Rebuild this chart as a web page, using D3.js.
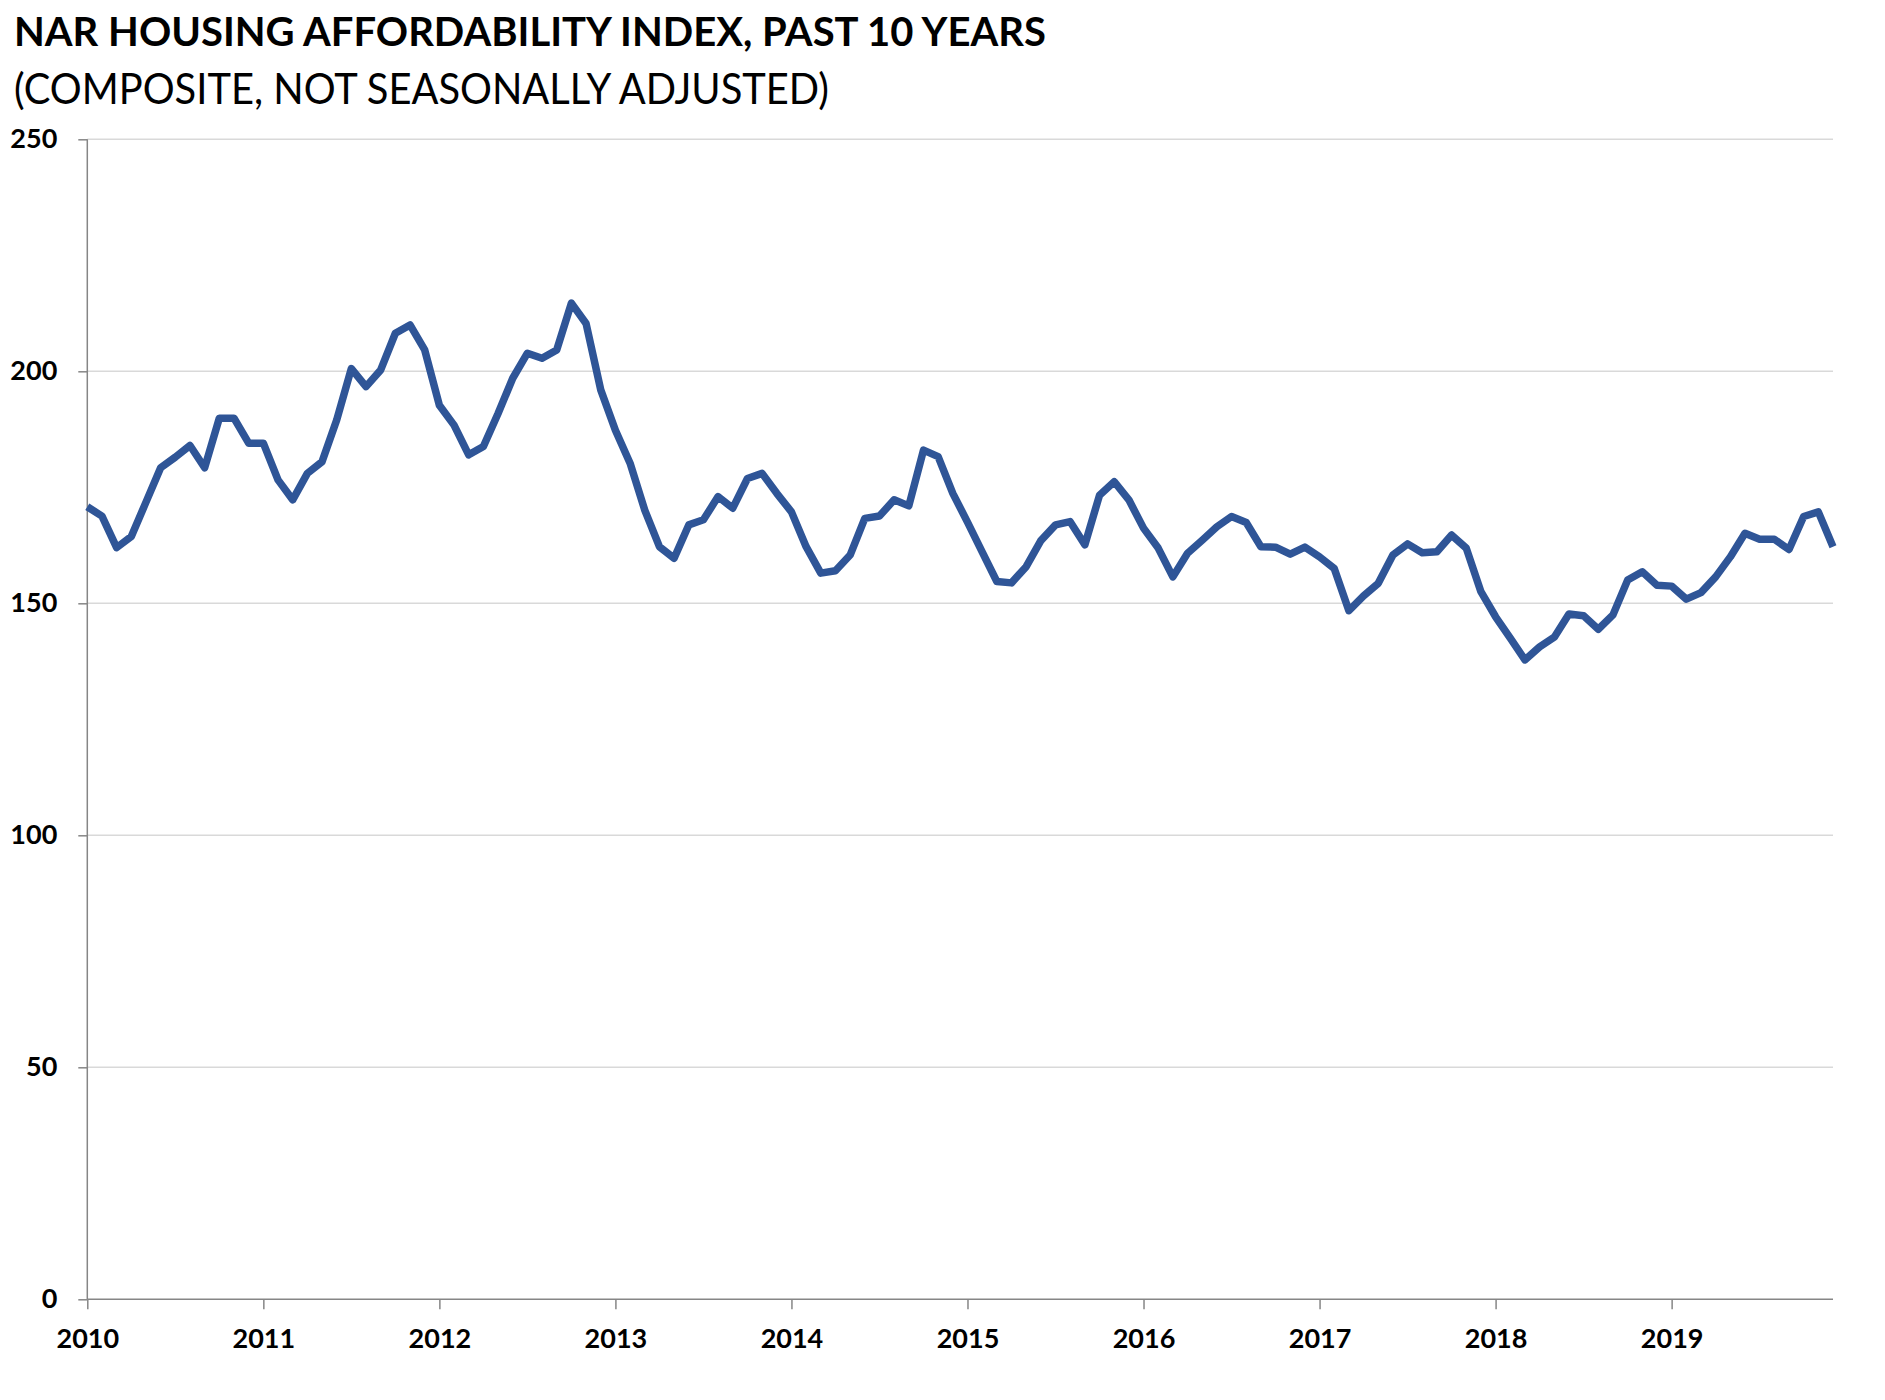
<!DOCTYPE html>
<html>
<head>
<meta charset="utf-8">
<script src="https://cdn.jsdelivr.net/npm/d3@7"></script>
<style>
    body { margin: 0; background: #fff; }
    svg { display: block; font-family: Lato, "Open Sans", sans-serif; }
</style>
</head>
<body>
<svg id="chart"></svg>
<script>
// chart text
const title = 'NAR HOUSING AFFORDABILITY INDEX, PAST 10 YEARS';
const subtitle = '(COMPOSITE, NOT SEASONALLY ADJUSTED)';

// x axis: one label per January
const years = ['2010', '2011', '2012', '2013', '2014', '2015', '2016', '2017', '2018', '2019'];
// y axis ticks
const yTicks = [0, 50, 100, 150, 200, 250];

// monthly index values, Jan 2010 .. Dec 2019
const hai2010 = [170.8, 168.8, 162.0, 164.4, 171.8, 179.2, 181.5, 184.0, 179.2, 189.9, 189.9, 184.5];
const hai2011 = [184.5, 176.6, 172.3, 178.0, 180.5, 189.5, 200.6, 196.7, 200.3, 208.2, 210.0, 204.6];
const hai2012 = [192.7, 188.4, 182.0, 183.8, 190.9, 198.5, 203.9, 202.8, 204.6, 214.7, 210.3, 196.0];
const hai2013 = [187.3, 180.2, 170.1, 162.2, 159.7, 166.9, 168.0, 173.0, 170.5, 176.9, 178.0, 173.7];
const hai2014 = [169.7, 162.2, 156.5, 157.0, 160.4, 168.3, 168.8, 172.3, 171.0, 183.0, 181.6, 173.7];
const hai2015 = [167.5, 161.1, 154.7, 154.4, 157.9, 163.5, 166.9, 167.6, 162.6, 173.3, 176.2, 172.3];
const hai2016 = [166.2, 161.9, 155.7, 160.8, 163.6, 166.5, 168.7, 167.4, 162.2, 162.1, 160.6, 162.1];
const hai2017 = [160.0, 157.5, 148.4, 151.6, 154.3, 160.4, 162.8, 160.9, 161.1, 164.7, 161.9, 152.5];
const hai2018 = [147.1, 142.5, 137.8, 140.6, 142.7, 147.7, 147.3, 144.4, 147.5, 155.0, 156.8, 153.9];
const hai2019 = [153.7, 150.9, 152.3, 155.7, 160.0, 165.1, 163.8, 163.8, 161.6, 168.7, 169.7, 162.2];

const values = [].concat(hai2010, hai2011, hai2012, hai2013, hai2014,
                         hai2015, hai2016, hai2017, hai2018, hai2019);

const width = 1885, height = 1400;
const margin = { left: 87.3, right: 52, top: 139.3, bottom: 100.7 };

const svg = d3.select('#chart').attr('width', width).attr('height', height);

// scales: months since Jan 2010 on x, index value on y
const x = d3.scaleLinear()
    .domain([0, values.length - 1])
    .range([margin.left, width - margin.right]);
const y = d3.scaleLinear()
    .domain([0, 250])
    .range([height - margin.bottom, margin.top]);

// titles
svg.append('text')
    .attr('x', 14).attr('y', 46)
    .attr('font-size', 41).attr('font-weight', 700)
    .attr('textLength', 1032).attr('lengthAdjust', 'spacingAndGlyphs')
    .text(title);
svg.append('text')
    .attr('x', 14).attr('y', 104)
    .attr('font-size', 43)
    .attr('textLength', 815).attr('lengthAdjust', 'spacingAndGlyphs')
    .text(subtitle);

// horizontal gridlines
svg.append('g')
    .selectAll('line')
    .data(yTicks.filter(d => d > 0))
    .join('line')
        .attr('x1', x(0)).attr('x2', x(values.length - 1))
        .attr('y1', d => y(d)).attr('y2', d => y(d))
        .attr('stroke', '#d9d9d9').attr('stroke-width', 1.5);

// y axis
const yAxis = svg.append('g')
    .attr('transform', `translate(${margin.left},0)`)
    .call(d3.axisLeft(y).tickValues(yTicks).tickSize(9).tickPadding(21).tickFormat(d3.format('d')));

// x axis, ticks at each January
const xAxis = svg.append('g')
    .attr('transform', `translate(0,${y(0)})`)
    .call(d3.axisBottom(x)
        .tickValues(years.map((d, i) => i * 12))
        .tickSize(10).tickPadding(20)
        .tickFormat((d, i) => years[i]));

[yAxis, xAxis].forEach(g => {
    g.select('.domain').attr('stroke', '#868686').attr('stroke-width', 1.5);
    g.selectAll('.tick line').attr('stroke', '#868686').attr('stroke-width', 1.5);
    g.selectAll('.tick text')
        .attr('fill', '#000')
        .attr('font-family', 'Lato, "Open Sans", sans-serif')
        .attr('font-size', 27).attr('font-weight', 700);
});
// axisLeft draws an outer tick at the ends; keep the plain line
yAxis.select('.domain').attr('d', `M0,${y(250)}V${y(0)}`);
xAxis.select('.domain').attr('d', `M${x(0)},0H${x(values.length - 1)}`);

// the series line
const line = d3.line()
    .x((d, i) => x(i))
    .y(d => y(d));

svg.append('path')
    .datum(values)
    .attr('d', line)
    .attr('fill', 'none')
    .attr('stroke', '#2f5597')
    .attr('stroke-width', 7.5)
    .attr('stroke-linejoin', 'round')
    .attr('stroke-linecap', 'butt');
</script>
</body>
</html>
